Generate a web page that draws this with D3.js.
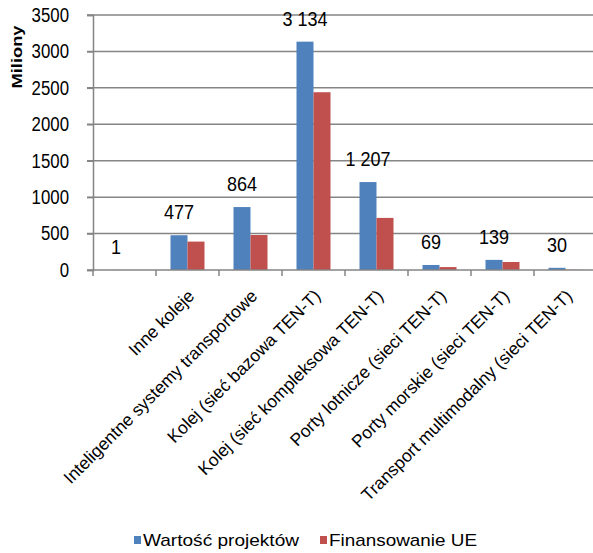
<!DOCTYPE html>
<html>
<head>
<meta charset="utf-8">
<script src="https://cdn.jsdelivr.net/npm/d3@7"></script>
<style>
  body { margin: 0; background: #fff; }
  text { font-family: "Liberation Sans", Arial, sans-serif; fill: #000; }
</style>
</head>
<body>
<div id="chart"></div>
<script>
// data
var categories = ["", "Inne koleje", "Inteligentne systemy transportowe",
  "Kolej (sieć bazowa TEN-T)", "Kolej (sieć kompleksowa TEN-T)",
  "Porty lotnicze (sieci TEN-T)", "Porty morskie (sieci TEN-T)",
  "Transport multimodalny (sieci TEN-T)"];
var seriesNames = ["Wartość projektów", "Finansowanie UE"];
var wartosc = [1, 477, 864, 3134, 1207, 69, 139, 30];
var finansowanie = [0, 390, 480, 2440, 715, 40, 110, 3];
var yTicks = [0, 500, 1000, 1500, 2000, 2500, 3000, 3500];
var colors = ["#4F81BD", "#C0504D"];

var W = 593, H = 553;
// plot area (note: "top" is reserved on window, so use other names)
var plotL = 93, plotR = 597, plotT = 15, plotB = 270;

var svg = d3.select("#chart").append("svg")
  .attr("width", W).attr("height", H);

var x = d3.scaleBand().domain(categories).range([plotL, plotR]);
var xs = d3.scaleBand().domain(seriesNames).range([14.5, 48.5]);
var y = d3.scaleLinear().domain([0, 3500]).range([plotB, plotT]);

// squeeze text horizontally to the picture's narrow glyphs
function squeeze(sel, f) {
  sel.each(function() {
    var n = this.getComputedTextLength();
    d3.select(this).attr("textLength", n * f).attr("lengthAdjust", "spacingAndGlyphs");
  });
}

// gridlines
svg.append("g").selectAll("line")
  .data(yTicks.slice(1))
  .enter().append("line")
  .attr("x1", plotL - 6).attr("x2", W)
  .attr("y1", function(d) { return y(d); })
  .attr("y2", function(d) { return y(d); })
  .attr("stroke", "#858585").attr("stroke-width", 1.5);

// y axis
var yAxis = svg.append("g")
  .attr("transform", "translate(" + plotL + ",0)")
  .call(d3.axisLeft(y).tickValues(yTicks).tickSize(6).tickPadding(18).tickFormat(d3.format("d")));
yAxis.select(".domain").attr("stroke", "#858585").attr("stroke-width", 1.5);
yAxis.selectAll(".tick line").attr("stroke", "#858585").attr("stroke-width", 1.5);
yAxis.selectAll(".tick text")
  .style("font-family", "Liberation Sans, Arial, sans-serif")
  .style("font-size", "20px").attr("fill", "#000");
squeeze(yAxis.selectAll(".tick text"), 0.84);

// bars
var groups = svg.append("g").selectAll("g")
  .data(categories)
  .enter().append("g")
  .attr("transform", function(d) { return "translate(" + x(d) + ",0)"; });

groups.selectAll("rect")
  .data(function(d, i) { return [wartosc[i], finansowanie[i]]; })
  .enter().append("rect")
  .attr("x", function(d, j) { return xs(seriesNames[j]); })
  .attr("width", xs.bandwidth())
  .attr("y", function(d) { return y(d); })
  .attr("height", function(d) { return plotB - y(d); })
  .attr("fill", function(d, j) { return colors[j]; });

// x axis line and category ticks
svg.append("line")
  .attr("x1", plotL - 6).attr("x2", W)
  .attr("y1", plotB).attr("y2", plotB)
  .attr("stroke", "#858585").attr("stroke-width", 1.5);
svg.append("g").selectAll("line")
  .data(categories)
  .enter().append("line")
  .attr("x1", function(d) { return x(d); })
  .attr("x2", function(d) { return x(d); })
  .attr("y1", plotB).attr("y2", plotB + 6)
  .attr("stroke", "#858585").attr("stroke-width", 1.5);

// value labels above the blue bars
var fmt = d3.formatLocale({ decimal: ",", thousands: " ", grouping: [3], currency: ["", ""] }).format(",d");
var vlab = svg.append("g").selectAll("text")
  .data(categories)
  .enter().append("text")
  .attr("x", function(d) { return x(d) + xs(seriesNames[0]) + xs.bandwidth() / 2; })
  .attr("y", function(d, i) { return y(wartosc[i]) - 16; })
  .attr("text-anchor", "middle")
  .style("font-size", "20px")
  .text(function(d, i) { return fmt(wartosc[i]); });
squeeze(vlab, 0.9);

// rotated category labels
svg.append("g").selectAll("text")
  .data(categories)
  .enter().append("text")
  .attr("text-anchor", "end")
  .attr("transform", function(d) {
    return "translate(" + (x(d) + x.bandwidth() / 2 + 8) + "," + (plotB + 27) + ") rotate(-45)";
  })
  .style("font-size", "17.5px")
  .attr("fill", "#222")
  .text(function(d) { return d; });

// y axis title
svg.append("text")
  .attr("transform", "translate(22,57) rotate(-90)")
  .attr("text-anchor", "middle")
  .style("font-size", "14px").style("font-weight", "bold")
  .attr("textLength", 63).attr("lengthAdjust", "spacingAndGlyphs")
  .text("Miliony");

// legend
var legX = [134, 320], legW = [156, 148];
var leg = svg.append("g").selectAll("g")
  .data(seriesNames)
  .enter().append("g")
  .attr("transform", function(d, i) { return "translate(" + legX[i] + ",540)"; });
leg.append("rect")
  .attr("x", 0).attr("y", -4).attr("width", 7).attr("height", 8)
  .attr("fill", function(d, i) { return colors[i]; });
leg.append("text")
  .attr("x", 9).attr("dy", "0.36em")
  .style("font-size", "17px")
  .attr("textLength", function(d, i) { return legW[i]; })
  .attr("lengthAdjust", "spacingAndGlyphs")
  .text(function(d) { return d; });
</script>
</body>
</html>
